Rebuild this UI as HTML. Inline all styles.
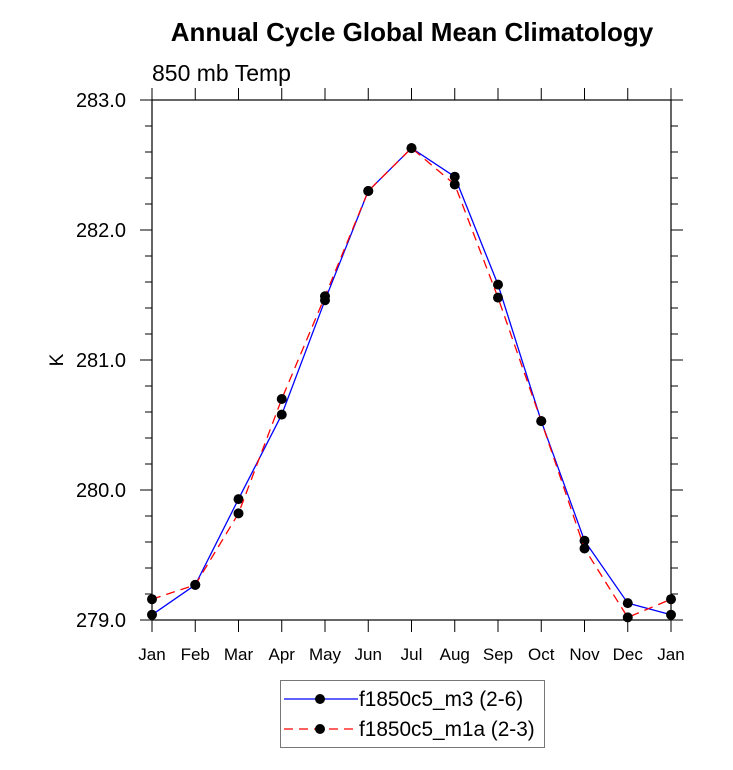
<!DOCTYPE html>
<html><head><meta charset="utf-8"><style>
body{margin:0;background:#fff;}
svg{display:block;font-family:"Liberation Sans",Arial,sans-serif;}
</style></head><body>
<svg id="chart" width="733" height="770">
<text x="412" y="41" text-anchor="middle" font-size="26" font-weight="bold">Annual Cycle Global Mean Climatology</text>
<text x="152" y="81" font-size="23">850 mb Temp</text>
<text transform="translate(63,360) rotate(-90)" text-anchor="middle" font-size="19">K</text>
<g id="axes"></g>
<g id="series"></g>
<g>
<rect x="280.5" y="680.5" width="264" height="67" fill="#fff" stroke="#777"/>
<g>
<line x1="284" y1="699" x2="358" y2="699" stroke="#0000ff" stroke-width="1.3"/>
<circle cx="320" cy="699" r="5" fill="#000"/>
<text x="359" y="706" font-size="20.8">f1850c5_m3 (2-6)</text></g>
<g>
<line x1="284" y1="729" x2="358" y2="729" stroke="#ff0000" stroke-width="1.3" stroke-dasharray="9,6"/>
<circle cx="320" cy="729" r="5" fill="#000"/>
<text x="359" y="736" font-size="20.8">f1850c5_m1a (2-3)</text></g>
</g>
</svg>
<script>
const months = ["Jan","Feb","Mar","Apr","May","Jun","Jul","Aug","Sep","Oct","Nov","Dec","Jan"];
const yTicks = [279.0, 280.0, 281.0, 282.0, 283.0];
const yTickLabels = ["279.0","280.0","281.0","282.0","283.0"];
const seriesM3 = [279.04, 279.27, 279.93, 280.58, 281.46, 282.30, 282.63, 282.41, 281.58, 280.53, 279.61, 279.13, 279.04];
const seriesM1a = [279.16, 279.27, 279.82, 280.70, 281.49, 282.30, 282.63, 282.35, 281.48, 280.53, 279.55, 279.02, 279.16];

const L=152, R=671, T=100, B=620, yMin=279, yMax=283;
const xs = i => L + i*(R-L)/(months.length-1);
const ys = v => B - (v-yMin)/(yMax-yMin)*(B-T);
const NS="http://www.w3.org/2000/svg";
function mk(tag, attrs, parent){const e=document.createElementNS(NS,tag);for(const k in attrs)e.setAttribute(k,attrs[k]);parent.appendChild(e);return e;}
const ax=document.getElementById('axes');
const frame=mk('rect',{x:L,y:T,width:R-L,height:B-T,fill:'none',stroke:'#000','stroke-width':1.2},ax);


months.forEach((m,i)=>{
  const x=xs(i);
  mk('line',{x1:x,y1:B,x2:x,y2:B+12,stroke:'#000'},ax);
  mk('line',{x1:x,y1:T,x2:x,y2:T-12,stroke:'#000'},ax);
  const t=mk('text',{x:x,y:B+40,'text-anchor':'middle','font-size':17},ax);
  t.textContent=m;
  
  
});
for(let v=yMin; v<=yMax+1e-9; v+=0.2){
  const y=ys(v); const major=Math.abs(v-Math.round(v))<1e-6;
  const len=major?12:7;
  mk('line',{x1:L,y1:y,x2:L-len,y2:y,stroke:'#000'},ax);
  mk('line',{x1:R,y1:y,x2:R+len,y2:y,stroke:'#000'},ax);
}
yTicks.forEach((v,i)=>{
  const t=mk('text',{x:126,y:ys(v)+7,'text-anchor':'end','font-size':20},ax);
  t.textContent=yTickLabels[i];
  
  
});
const sg=document.getElementById('series');
function draw(vals,color,dash,name){
  const g=mk('g',{},sg);
  
  
  const pts=vals.map((v,i)=>xs(i)+','+ys(v)).join(' ');
  const a={points:pts,fill:'none',stroke:color,'stroke-width':1.3};
  if(dash)a['stroke-dasharray']=dash;
  mk('polyline',a,g);
  vals.forEach((v,i)=>{
    const c=mk('circle',{cx:xs(i),cy:ys(v),r:5,fill:'#000'},g);
    
    
  });
}
draw(seriesM3,'#0000ff',null,'series-m3');
draw(seriesM1a,'#ff0000','9,6','series-m1a');
</script>
</body></html>
